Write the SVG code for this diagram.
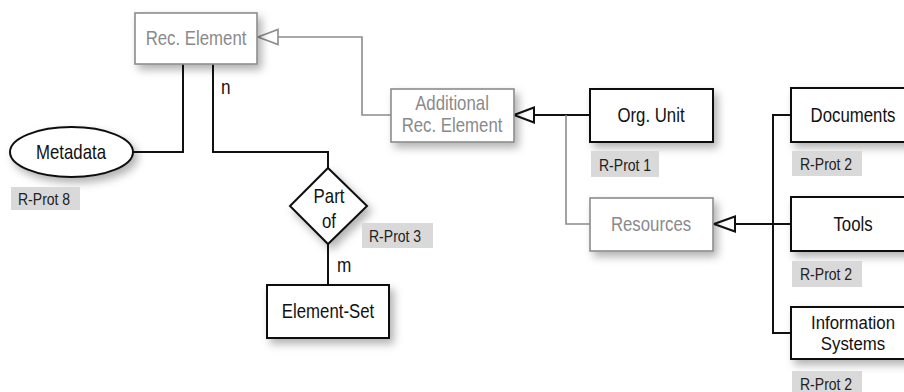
<svg xmlns="http://www.w3.org/2000/svg" width="904" height="392" viewBox="0 0 904 392">
<defs>
<filter id="sh" x="-30%" y="-30%" width="170%" height="180%">
<feDropShadow dx="4" dy="5" stdDeviation="4.5" flood-color="#000" flood-opacity="0.3"/>
</filter>
<style>
.t{font-family:"Liberation Sans",Arial,sans-serif;font-size:20px;text-anchor:middle;fill:#111}
.ts{font-size:17.5px}
.tg{fill:#8a8a8a}
.nb{fill:#fff;stroke:#111;stroke-width:2}
.ng{fill:#fff;stroke:#8c8c8c;stroke-width:1.6}
.lb{fill:#d9d9d9}
.lt{font-family:"Liberation Sans",Arial,sans-serif;font-size:16.5px;fill:#222}
.cb{fill:none;stroke:#111;stroke-width:2}
.cg{fill:none;stroke:#8c8c8c;stroke-width:1.6}
.card{font-family:"Liberation Sans",Arial,sans-serif;font-size:20px;fill:#111}
</style>
</defs>
<rect width="904" height="392" fill="#fff"/>
<g id="connectors">
<polyline class="cb" points="133,152 183,152 183,64"/>
<polyline class="cb" points="213,64 213,152 328,152 328,168"/>
<line class="cb" x1="328" y1="244" x2="328" y2="285"/>
<polyline class="cg" points="391,115 362,115 362,37 278,37"/>
<polygon points="258,37 278,29.5 278,44.5" fill="#fff" stroke="#8c8c8c" stroke-width="1.6"/>
<line class="cb" x1="534" y1="115" x2="590" y2="115"/>
<polygon points="514,115 534,107.5 534,122.5" fill="#fff" stroke="#111" stroke-width="2"/>
<polyline class="cg" points="566,115 566,224 590,224"/>
<line class="cb" x1="735" y1="224" x2="791" y2="224"/>
<polyline class="cb" points="791,115 773,115 773,333 791,333"/>
<polygon points="714,224 735,216.5 735,231.5" fill="#fff" stroke="#111" stroke-width="2"/>
<text class="card" transform="translate(221,94) scale(0.86,1)">n</text>
<text class="card" transform="translate(337,272) scale(0.86,1)">m</text>
</g>
<g id="rec-element">
<rect class="ng" x="135" y="13" width="122" height="51" filter="url(#sh)"/>
<text class="t tg" transform="translate(196,45) scale(0.84,1)">Rec. Element</text>
</g>
<g id="metadata">
<ellipse cx="71.5" cy="152" rx="61.5" ry="25" class="nb" filter="url(#sh)"/>
<text class="t" transform="translate(71,159) scale(0.84,1)">Metadata</text>
<rect class="lb" x="11" y="187" width="69" height="23"/>
<text class="lt" transform="translate(18,205) scale(0.85,1)">R-Prot 8</text>
</g>
<g id="part-of">
<polygon class="nb" points="328,168 367,206 328,244 290,206" filter="url(#sh)"/>
<text class="t" transform="translate(329,203) scale(0.84,1)">Part</text>
<text class="t" transform="translate(329,228) scale(0.84,1)">of</text>
<rect class="lb" x="362" y="223" width="71" height="25"/>
<text class="lt" transform="translate(369,242) scale(0.85,1)">R-Prot 3</text>
</g>
<g id="element-set">
<rect class="nb" x="267" y="285" width="122" height="53" filter="url(#sh)"/>
<text class="t" transform="translate(328,318) scale(0.84,1)">Element-Set</text>
</g>
<g id="additional">
<rect class="ng" x="391" y="89" width="123" height="53" filter="url(#sh)"/>
<text class="t tg" transform="translate(452,110) scale(0.84,1)">Additional</text>
<text class="t tg" transform="translate(452,132) scale(0.84,1)">Rec. Element</text>
</g>
<g id="org-unit">
<rect class="nb" x="590" y="89" width="123" height="53" filter="url(#sh)"/>
<text class="t" transform="translate(651,122) scale(0.84,1)">Org. Unit</text>
<rect class="lb" x="591" y="151" width="68" height="26"/>
<text class="lt" transform="translate(599,171) scale(0.85,1)">R-Prot 1</text>
</g>
<g id="resources">
<rect class="ng" x="590" y="198" width="123" height="53" filter="url(#sh)"/>
<text class="t tg" transform="translate(651,231) scale(0.84,1)">Resources</text>
</g>
<g id="documents">
<rect class="nb" x="791" y="88" width="123" height="54" filter="url(#sh)"/>
<text class="t" transform="translate(853,122) scale(0.84,1)">Documents</text>
<rect class="lb" x="792" y="151" width="70" height="25"/>
<text class="lt" transform="translate(800,170) scale(0.85,1)">R-Prot 2</text>
</g>
<g id="tools">
<rect class="nb" x="791" y="197" width="123" height="54" filter="url(#sh)"/>
<text class="t" transform="translate(853,231) scale(0.84,1)">Tools</text>
<rect class="lb" x="792" y="261" width="70" height="26"/>
<text class="lt" transform="translate(800,280) scale(0.85,1)">R-Prot 2</text>
</g>
<g id="information-systems">
<rect class="nb" x="791" y="307" width="123" height="52" filter="url(#sh)"/>
<text class="t ts" transform="translate(853,329) scale(0.96,1)">Information</text>
<text class="t ts" transform="translate(853,350) scale(0.96,1)">Systems</text>
<rect class="lb" x="792" y="371" width="70" height="26"/>
<text class="lt" transform="translate(800,390) scale(0.85,1)">R-Prot 2</text>
</g>
</svg>
